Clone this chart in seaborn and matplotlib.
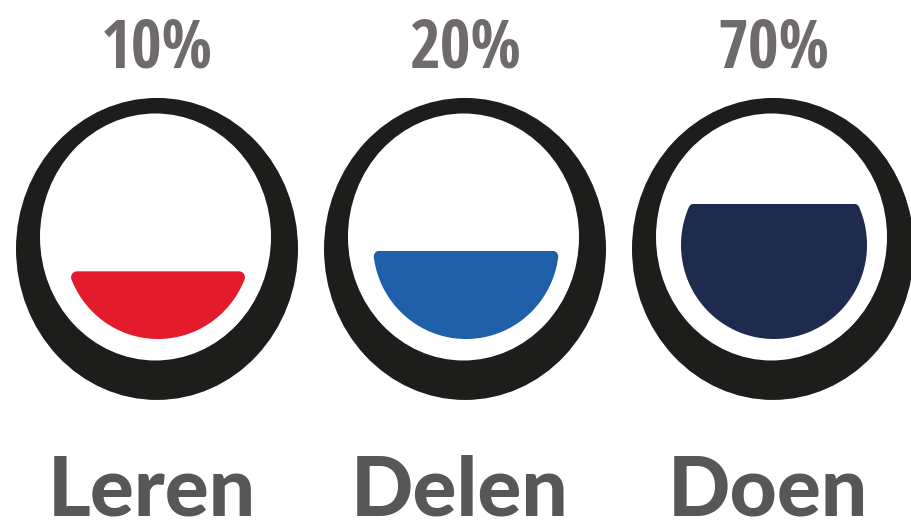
import matplotlib
matplotlib.use("Agg")
import numpy as np
import pandas as pd
import seaborn as sns
import matplotlib.pyplot as plt
from matplotlib.patches import Ellipse, PathPatch
from matplotlib.path import Path

# ---- data ----
labels = ["Leren", "Delen", "Doen"]
percent = [10, 20, 70]
percent_labels = [f"{p}%" for p in percent]
fill_level = [0.36, 0.47, 0.72]          # fill height as fraction of the inner bowl
colors = ["#e31b2d", "#1f5ea8", "#1f2a4f"]

sns.set_theme(style="white")
fig = plt.figure(figsize=(9.12, 5.29), dpi=100)
ax = fig.add_axes([0, 0, 1, 1])

df = pd.DataFrame({"label": labels, "level": fill_level})
sns.barplot(data=df, x="label", y="level", hue="label", palette=colors,
            width=0.7, saturation=1, legend=False, ax=ax, zorder=3)

PX, PY = 308.0, 188.0   # pixels per data unit
ax.set_xlim(-157 / PX, (912 - 157) / PX)
ax.set_ylim(-190 / PY, 339 / PY)
ax.axis("off")


def rounded_bowl(cu, cv, a, b, top, r=6.0, n=500):
    """Bowl (ellipse cut at 'top') with rounded corners, in pixel units."""
    a2, b2 = a - r, b - r
    vt = top - r
    if vt >= cv + b2:
        th = np.linspace(0, 2 * np.pi, n, endpoint=False)
    else:
        s = np.clip((vt - cv) / b2, -1, 1)
        t1 = np.arcsin(s)
        t2 = np.pi - t1
        th = np.linspace(t2, t1 + 2 * np.pi, n)
    pts = np.column_stack([cu + a2 * np.cos(th), cv + b2 * np.sin(th)])
    out = []
    m = len(pts)
    for i in range(m):
        p0, p1, p2 = pts[i - 1], pts[i], pts[(i + 1) % m]
        e1 = p1 - p0
        e2 = p2 - p1
        n1 = np.arctan2(-e1[0], e1[1])
        n2 = np.arctan2(-e2[0], e2[1])
        if n2 < n1:
            n2 += 2 * np.pi
        k = max(2, int((n2 - n1) / 0.05))
        for ang in np.linspace(n1, n2, k):
            out.append((p1[0] + r * np.cos(ang), p1[1] + r * np.sin(ang)))
    return np.array(out)


ring_col = "#1d1d1b"
for i, bar in enumerate(ax.patches):
    cx = bar.get_x() + bar.get_width() / 2
    outer = Ellipse((cx, 0.479), 282 / PX, 302 / PY, color=ring_col, zorder=1, lw=0)
    inner = Ellipse((cx - 1.5 / PX, 0.5426), 231 / PX, 247 / PY, color="white", zorder=2, lw=0)
    ax.add_patch(outer)
    ax.add_patch(inner)
    poly = rounded_bowl((cx + 1.0 / PX) * PX, 0.5 * PY, 93.0, 94.0,
                        (bar.get_y() + bar.get_height()) * PY)
    verts = np.column_stack([poly[:, 0] / PX, poly[:, 1] / PY])
    verts = np.vstack([verts, verts[:1]])
    codes = [Path.MOVETO] + [Path.LINETO] * (len(verts) - 2) + [Path.CLOSEPOLY]
    clip = PathPatch(Path(verts, codes), transform=ax.transData,
                     facecolor="none", lw=0)
    ax.add_patch(clip)
    bar.set_clip_path(clip)
    bar.set_linewidth(0)

for i, (pl, lab) in enumerate(zip(percent_labels, labels)):
    ax.text(i, (339 - 67) / PY, pl, ha="center", va="baseline",
            fontsize=48, fontweight="bold", color="#6f6b6a",
            family=["Open Sans Condensed", "DejaVu Sans"])
    ax.text(i - 5 / PX, (339 - 515) / PY, lab, ha="center", va="baseline",
            fontsize=59, fontweight="black", color="#575757",
            family=["Lato", "DejaVu Sans"])

fig.savefig("out.png", dpi=100)
